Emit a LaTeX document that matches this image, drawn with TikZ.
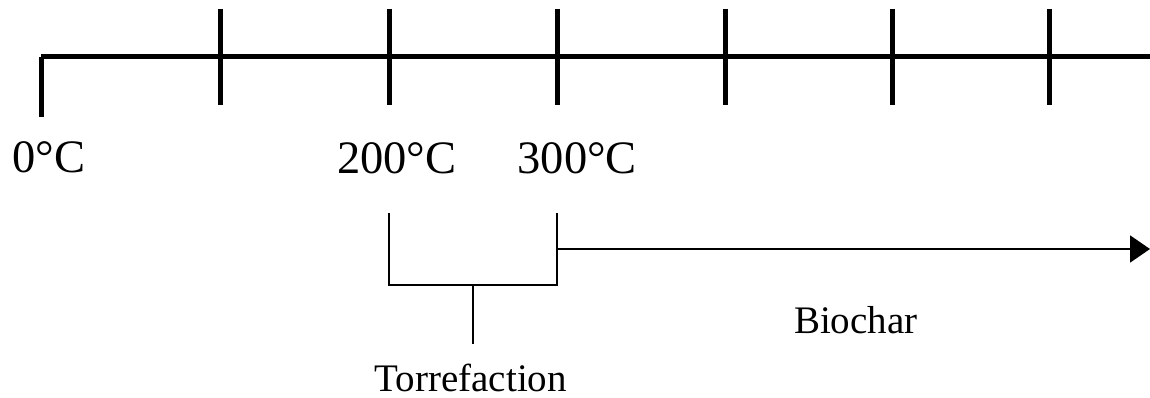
\documentclass[tikz,border=0pt]{standalone}
\usepackage{fontspec}
\setmainfont{Liberation Serif}
\usetikzlibrary{arrows.meta}
\begin{document}
\begin{tikzpicture}[x=1pt,y=-1pt,
  axisline/.style={line width=5pt},
  thinline/.style={line width=2pt},
  templabel/.style={anchor=base,inner sep=0pt,font=\fontsize{46.5}{50}\selectfont},
  phaselabel/.style={anchor=base,inner sep=0pt,font=\fontsize{39}{42}\selectfont}]
\useasboundingbox (0,0) rectangle (1150,398);
% axis
\coordinate (c0) at (41,57);
\coordinate (c0b) at (41,117);
\coordinate (aend) at (1150,57);
\draw[axisline] (c0b) -- (c0);
\draw[axisline] (c0) -- (aend);
\foreach \x [count=\i] in {220,389,557,725,892.5,1049.5}{
  \coordinate (t\i a) at (\x,9);
  \coordinate (t\i b) at (\x,105);
  \draw[axisline] (t\i a) -- (t\i b);
}
% labels
\node[templabel] (l0) at (48.9,172.5) {0°C};
\node[templabel] (l200) at (396.7,173.3) {200°C};
\node[templabel] (l300) at (577.3,173.3) {300°C};
% bracket
\coordinate (bl) at (389,213);
\coordinate (br) at (557,213);
\coordinate (bm) at (473,285);
\coordinate (bs) at (473,344);
\draw[thinline] (bl) -- (bl |- bm) -- (br |- bm) -- (br);
\draw[thinline] (bm) -- (bs);
% arrow
\coordinate (as) at (557,249);
\coordinate (ae) at (1150,249);
\draw[thinline,-{Triangle[length=20pt,width=27pt]}] (as) -- (ae);
\node[phaselabel] (bio) at (855.8,333.3) {Biochar};
\node[phaselabel] (tor) at (470.8,391.5) {Torrefaction};
\end{tikzpicture}
\end{document}
